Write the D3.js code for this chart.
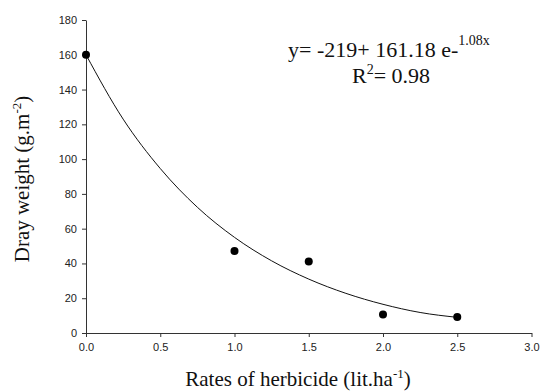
<!DOCTYPE html>
<html>
<head>
<meta charset="utf-8">
<script src="https://cdn.jsdelivr.net/npm/d3@7"></script>
<style>
  body { margin: 0; background: #fff; }
  svg { display: block; }
</style>
</head>
<body>
<svg id="chart"></svg>
<script>
// observed points
var rates = [0, 1, 1.5, 2, 2.5];
var weights = [160, 47.2, 41.1, 10.6, 9.2];

// fitted curve
var curveX = [0, 0.25, 0.5, 0.75, 1, 1.25, 1.5, 1.75, 2, 2.25, 2.5];
var curveY = [160, 123, 94.6, 72.3, 55, 41.5, 31, 22.8, 16.5, 11.8, 9];

var xTicks = [0, 0.5, 1, 1.5, 2, 2.5, 3];
var yTicks = [0, 20, 40, 60, 80, 100, 120, 140, 160, 180];

var margin = { top: 20, right: 8.5, bottom: 59, left: 86 },
    W = 540, H = 392,
    width = W - margin.left - margin.right,
    height = H - margin.top - margin.bottom;

var svg = d3.select("#chart")
    .attr("width", W)
    .attr("height", H);

var g = svg.append("g")
    .attr("transform", "translate(" + margin.left + "," + margin.top + ")");

var x = d3.scaleLinear().domain([0, 3]).range([0, width]);
var y = d3.scaleLinear().domain([0, 180]).range([height, 0]);

var xAxis = g.append("g")
    .attr("transform", "translate(0," + height + ")")
    .call(d3.axisBottom(x).tickValues(xTicks).tickFormat(d3.format(".1f"))
        .tickSize(4).tickSizeOuter(0).tickPadding(6));

var yAxis = g.append("g")
    .call(d3.axisLeft(y).tickValues(yTicks).tickSize(4).tickSizeOuter(0).tickPadding(5));

[xAxis, yAxis].forEach(function (a) {
    a.selectAll("text")
        .attr("font-family", "'Liberation Sans', Arial, sans-serif")
        .attr("font-size", 11)
        .attr("fill", "#222");
    a.selectAll("line, path").attr("stroke", "#333").attr("stroke-width", 1);
});

var line = d3.line()
    .x(function (d, i) { return x(curveX[i]); })
    .y(function (d) { return y(d); })
    .curve(d3.curveMonotoneX);

g.append("path")
    .datum(curveY)
    .attr("fill", "none")
    .attr("stroke", "#111")
    .attr("stroke-width", 1)
    .attr("d", line);

g.selectAll("circle")
    .data(weights)
    .enter().append("circle")
    .attr("cx", function (d, i) { return x(rates[i]); })
    .attr("cy", function (d) { return y(d); })
    .attr("r", 4)
    .attr("fill", "#000");

var serif = "'Liberation Serif', 'Times New Roman', serif";

// axis titles
var xt = svg.append("text")
    .attr("x", 298)
    .attr("y", 386)
    .attr("text-anchor", "middle")
    .attr("font-family", serif)
    .attr("font-size", 21)
    .attr("fill", "#111");
xt.append("tspan").text("Rates of herbicide (lit.ha");
xt.append("tspan").attr("dy", -8).attr("font-size", 13).text("-1");
xt.append("tspan").attr("dy", 8).text(")");

var yt = svg.append("text")
    .attr("transform", "translate(29,179) rotate(-90)")
    .attr("text-anchor", "middle")
    .attr("font-family", serif)
    .attr("font-size", 21)
    .attr("fill", "#111");
yt.append("tspan").text("Dray weight (g.m");
yt.append("tspan").attr("dy", -8).attr("font-size", 13).text("-2");
yt.append("tspan").attr("dy", 8).text(")");

// equation
var eq = svg.append("text")
    .attr("x", 288)
    .attr("y", 57)
    .attr("font-family", serif)
    .attr("font-size", 22)
    .attr("fill", "#111");
eq.append("tspan").text("y= -219+ 161.18 e-");
eq.append("tspan").attr("dy", -12).attr("font-size", 14).text("1.08x");

var r2 = svg.append("text")
    .attr("x", 352)
    .attr("y", 83)
    .attr("font-family", serif)
    .attr("font-size", 22)
    .attr("fill", "#111");
r2.append("tspan").text("R");
r2.append("tspan").attr("dy", -9).attr("font-size", 14).text("2");
r2.append("tspan").attr("dy", 9).text("= 0.98");
</script>
</body>
</html>
